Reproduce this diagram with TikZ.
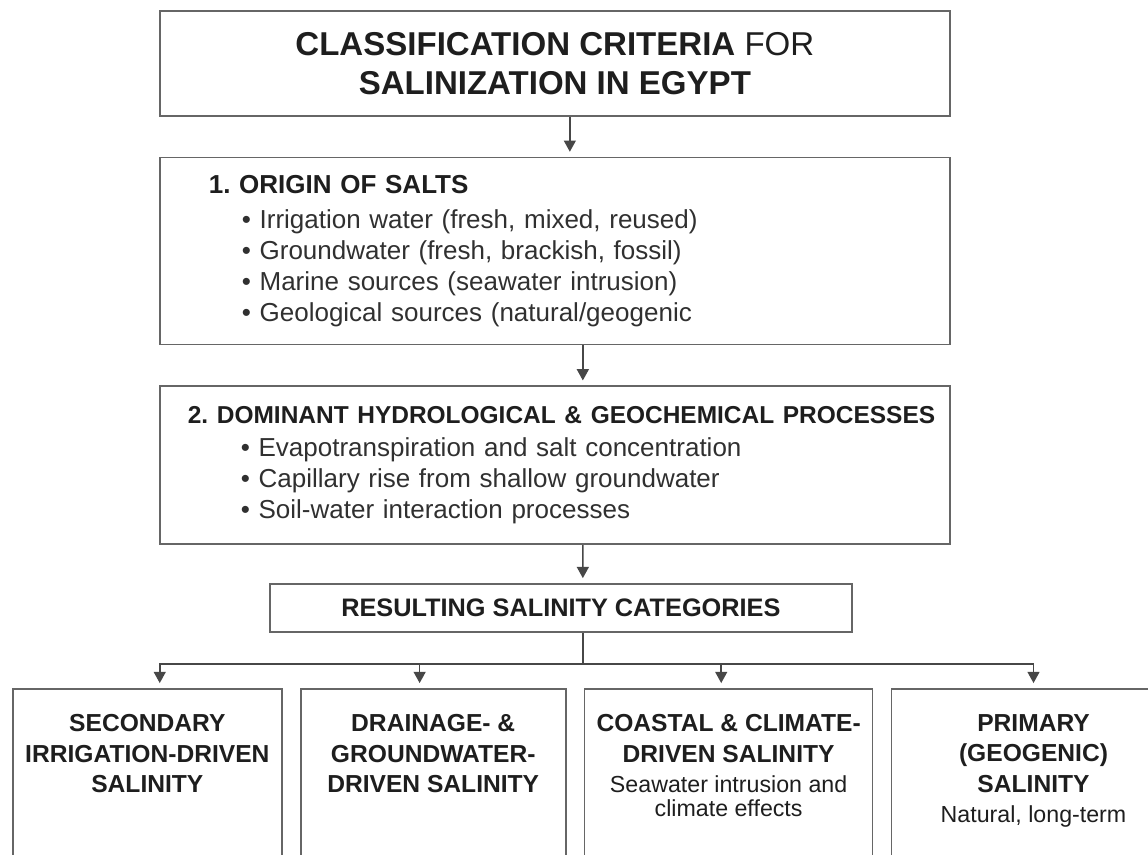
\documentclass[tikz,border=0pt]{standalone}
\usepackage{fontspec}
\setmainfont{Liberation Sans}
\setsansfont{Liberation Sans}
\usetikzlibrary{arrows.meta, positioning, calc}

\definecolor{inkdark}{HTML}{1E1E1E}
\definecolor{inkbody}{HTML}{303030}
\definecolor{edgegray}{HTML}{666666}
\definecolor{linkgray}{HTML}{474747}

\newlength\catdepth
\setlength\catdepth{4.6cm}
\newcommand{\catbody}[2]{\parbox[t][\catdepth][t]{#1}{\centering #2}}
\newcommand{\cathead}{\fontsize{17.5}{21.7}\selectfont\bfseries}
\newcommand{\catnote}{\fontsize{16.5}{17}\selectfont}

\begin{document}
\begin{tikzpicture}[
  >={Triangle[length=8pt, width=8.5pt]},
  every node/.style={font=\sffamily\frenchspacing, text=inkdark},
  box/.style={draw=edgegray, line width=1.2pt, inner sep=0pt},
  titlebox/.style={
    box, minimum width=19.75cm, minimum height=2.625cm, align=center,
    font=\sffamily\fontsize{23.5}{27.7}\selectfont
  },
  stage/.style={
    box, minimum width=19.75cm, align=left, text=inkbody,
    font=\sffamily\frenchspacing\fontsize{18.5}{22}\selectfont
  },
  resultbox/.style={
    box, minimum width=14.55cm, minimum height=1.2cm,
    font=\sffamily\bfseries\fontsize{18}{22}\selectfont
  },
  catbox/.style={box, inner xsep=0pt, inner ysep=0.64cm},
  link/.style={->, line width=1.1pt, draw=linkgray, shorten >=3.5pt},
  wire/.style={line width=1.1pt, draw=linkgray}
]

\useasboundingbox (0,0) rectangle (28.7,-21.35);
\clip (0,0) rectangle (28.7,-21.35);

% --- Title ---
\node[titlebox, anchor=north west] (title) at (3.975,-0.25)
  {\textbf{CLASSIFICATION CRITERIA} FOR\\\textbf{SALINIZATION IN EGYPT}};

% --- Criteria ---
\node[stage, below=1.0cm of title, minimum height=4.675cm, text width=17.3cm, inner xsep=1.225cm] (origin)
  {\textcolor{inkdark}{\bfseries 1. ORIGIN OF SALTS}\\[2.5pt]
   \hspace*{0.825cm}\textbullet\ Irrigation water (fresh, mixed, reused)\\
   \hspace*{0.825cm}\textbullet\ Groundwater (fresh, brackish, fossil)\\
   \hspace*{0.825cm}\textbullet\ Marine sources (seawater intrusion)\\
   \hspace*{0.825cm}\textbullet\ Geological sources (natural/geogenic};

\node[stage, below=1.0cm of origin, minimum height=3.95cm, text width=18.35cm, inner xsep=0.7cm] (process)
  {\mbox{\textcolor{inkdark}{\bfseries\fontsize{17.4}{22}\selectfont 2. DOMINANT HYDROLOGICAL \& GEOCHEMICAL PROCESSES}}\\[1pt]
   \hspace*{1.325cm}\textbullet\ Evapotranspiration and salt concentration\\
   \hspace*{1.325cm}\textbullet\ Capillary rise from shallow groundwater\\
   \hspace*{1.325cm}\textbullet\ Soil-water interaction processes};

\node[resultbox, below=0.95cm of process, xshift=0.15cm] (result) {RESULTING SALINITY CATEGORIES};

% --- Categories ---
\node[catbox, anchor=north west] (secondary) at (0.3,-17.2)
  {\catbody{6.725cm}{\cathead SECONDARY\\IRRIGATION-DRIVEN\\SALINITY\par}};
\node[catbox, right=0.43cm of secondary] (drainage)
  {\catbody{6.625cm}{\cathead DRAINAGE- \&\\GROUNDWATER-\\DRIVEN SALINITY\par}};
\node[catbox, right=0.43cm of drainage] (coastal)
  {\catbody{7.2cm}{{\cathead COASTAL \& CLIMATE-\\DRIVEN SALINITY\par}\vspace{4.5pt}
   {\catnote Seawater intrusion and\\climate effects\par}}};
\node[catbox, right=0.43cm of coastal] (primary)
  {\catbody{7.1cm}{{\cathead PRIMARY\\(GEOGENIC)\\SALINITY\par}\vspace{4.5pt}
   {\catnote Natural, long-term\par}}};

% --- Arrows ---
\draw[link] ([xshift=0.375cm]title.south) -- ([xshift=0.375cm]origin.north);
\draw[link] ([xshift=0.7cm]origin.south) -- ([xshift=0.7cm]process.north);
\draw[link] ([xshift=0.7cm]process.south) -- ([xshift=0.55cm]result.north);

\coordinate (split) at ([xshift=0.55cm, yshift=-0.775cm]result.south);
\draw[wire] ([xshift=0.55cm]result.south) -- (split);
\draw[link] (split) -| ([xshift=0.31cm]secondary.north);
\draw[link] (split) -| ([xshift=-0.34cm]drainage.north);
\draw[link] (split) -| ([xshift=-0.185cm]coastal.north);
\draw[link] (split) -| (primary.north);

\end{tikzpicture}
\end{document}
